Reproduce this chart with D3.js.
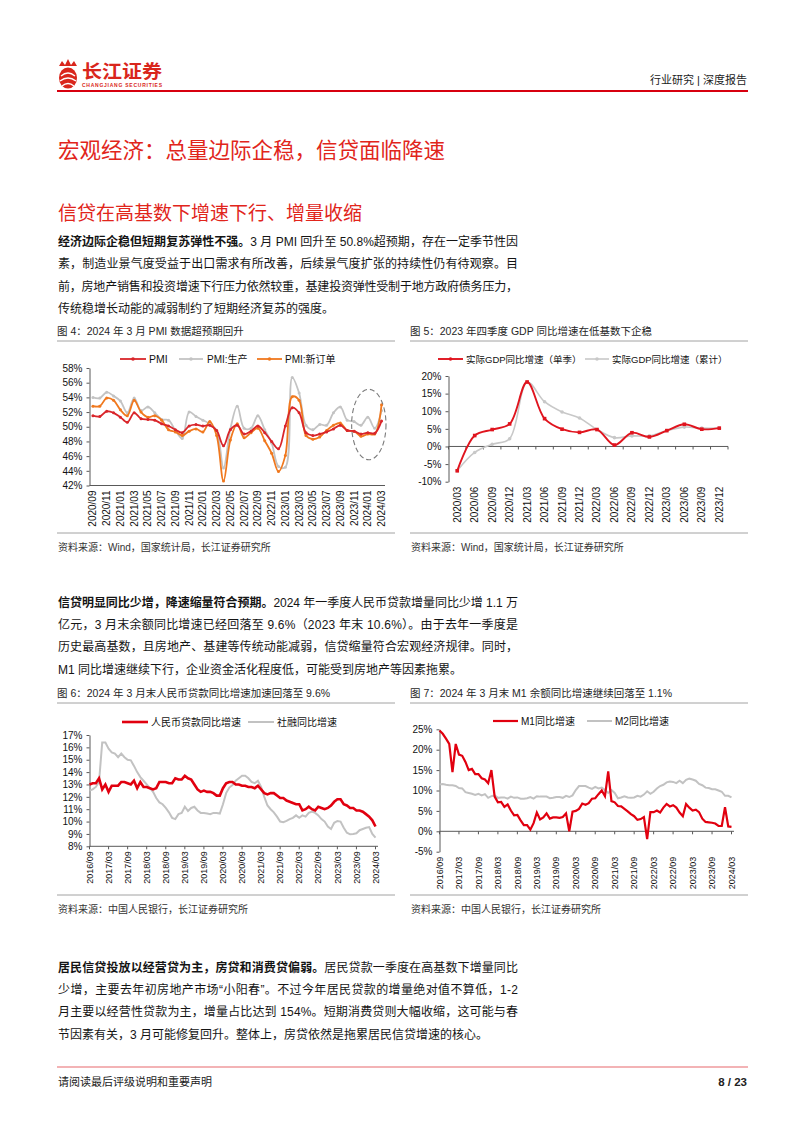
<!DOCTYPE html>
<html><head><meta charset="utf-8">
<script src="https://cdn.jsdelivr.net/npm/d3@7/dist/d3.min.js"></script>
<style>html,body{margin:0;padding:0;background:#fff;} svg{display:block;}</style>
</head><body>
<svg id="page" width="802" height="1133" xmlns="http://www.w3.org/2000/svg"></svg>
<script>
// ================= DATA =================
const pmiMonths = ["2020/09","2020/10","2020/11","2020/12","2021/01","2021/02","2021/03","2021/04","2021/05","2021/06","2021/07","2021/08","2021/09","2021/10","2021/11","2021/12","2022/01","2022/02","2022/03","2022/04","2022/05","2022/06","2022/07","2022/08","2022/09","2022/10","2022/11","2022/12","2023/01","2023/02","2023/03","2023/04","2023/05","2023/06","2023/07","2023/08","2023/09","2023/10","2023/11","2023/12","2024/01","2024/02","2024/03"];
const pmiTickLabels = ["2020/09","2020/11","2021/01","2021/03","2021/05","2021/07","2021/09","2021/11","2022/01","2022/03","2022/05","2022/07","2022/09","2022/11","2023/01","2023/03","2023/05","2023/07","2023/09","2023/11","2024/01","2024/03"];
const pmiTicks = [42,44,46,48,50,52,54,56,58];
const pmiValues = [51.5,51.4,52.1,51.9, 51.3,50.6,51.9,51.1,51.0,50.9,50.4,50.1,49.6,49.2,50.1,50.3, 50.1,50.2,49.5,47.4,49.6,50.2,49.0,49.4,50.1,49.2,48.0,47.0, 50.1,52.6,51.9,49.2,48.8,49.0,49.3,49.7,50.2,49.5,49.4,49.0, 49.2,49.1,50.8];
const pmiProduction = [54.0,53.9,54.7,54.2, 53.5,51.9,53.9,52.2,52.7,51.9,51.0,50.9,49.5,48.4,52.0,51.4, 50.9,50.4,49.5,44.4,49.7,52.8,49.8,49.8,51.5,49.6,47.8,44.6, 44.5,56.7,54.6,50.2,49.6,50.3,50.2,51.9,52.7,50.9,50.7,50.2, 51.3,49.8,52.2];
const pmiNewOrders = [52.8,52.8,53.9,53.6, 52.3,51.5,53.6,52.0,51.3,51.5,50.9,49.6,49.3,48.8,49.4,49.7, 49.3,50.7,48.8,42.6,48.2,50.4,48.5,49.2,49.8,48.1,46.4,43.9, 46.1,54.1,53.6,48.8,48.3,48.6,49.5,50.2,50.5,49.5,49.4,48.7, 49.0,49.0,53.0];

const gdpQuarters = ["2020/03","2020/06","2020/09","2020/12","2021/03","2021/06","2021/09","2021/12","2022/03","2022/06","2022/09","2022/12","2023/03","2023/06","2023/09","2023/12"];
const gdpTicks = [-10,-5,0,5,10,15,20];
const gdpSingle = [-6.9,3.1,4.8,6.4,18.3,7.9,4.9,4.0,4.8,0.4,3.9,2.7,4.5,6.3,4.9,5.2];
const gdpCumulative = [-6.9,-1.7,0.6,2.2,18.3,12.7,9.8,8.1,4.8,2.5,3.0,3.0,4.5,5.5,5.2,5.2];

const creditTickLabels = ["2016/09","2017/03","2017/09","2018/03","2018/09","2019/03","2019/09","2020/03","2020/09","2021/03","2021/09","2022/03","2022/09","2023/03","2023/09","2024/03"];
const loanTicks = [8,9,10,11,12,13,14,15,16,17];
const loanGrowth = [13.0,13.1,13.1,13.5,
 12.6,13.0,12.4,12.9,12.9,12.9,13.2,13.2,13.1,13.0,13.3,12.7,
 13.2,12.8,12.8,12.7,12.6,12.7,13.2,13.2,13.2,13.1,13.1,13.5,
 13.4,13.4,13.7,13.5,13.4,13.0,12.6,12.4,12.5,12.4,12.4,12.3,
 12.1,12.1,12.7,13.1,13.2,13.2,13.0,13.0,12.9,12.9,12.8,12.8,
 12.7,12.9,12.6,12.3,12.2,12.3,12.3,12.1,11.9,11.9,11.7,11.6,
 11.5,11.4,11.4,10.9,11.0,11.2,11.0,10.9,11.2,11.1,11.0,11.1,
 11.3,11.6,11.8,11.8,11.4,11.3,11.1,11.1,10.9,10.9,10.8,10.6,
 10.4,10.1,9.6];
const tsfGrowth = [12.5,12.6,12.8,13.2,
 16.4,16.4,15.9,15.6,15.5,15.2,15.5,15.2,15.0,14.95,14.5,14.0,
 13.6,13.3,13.0,12.7,12.4,11.9,11.55,11.4,11.1,10.75,10.3,10.2,
 10.6,10.7,11.2,10.85,11.1,11.2,10.9,10.7,10.7,10.65,10.6,10.7,
 10.7,10.65,11.4,12.3,12.75,12.95,13.3,13.5,13.7,13.7,13.5,13.2,
 13.1,13.3,12.8,12.0,11.3,11.0,10.75,10.4,10.0,9.95,10.05,10.2,
 10.3,10.5,10.3,10.5,10.4,10.7,10.8,10.7,10.5,10.2,10.0,9.6,
 9.4,9.9,10.05,10.0,9.5,9.1,8.97,9.0,9.05,9.3,9.4,9.5,
 9.55,9.0,8.7];
const m1Ticks = [-5,0,5,10,15,20,25];
const m1Growth = [24.7,23.9,22.7,21.4,
 14.5,21.4,18.8,18.5,17.0,15.0,15.3,14.0,14.0,13.0,12.7,11.8,
 15.0,8.5,7.1,7.2,6.0,6.6,5.1,3.9,4.0,2.7,1.5,1.5,
 0.4,2.0,4.6,2.9,3.4,4.4,3.1,3.4,3.4,3.3,3.5,4.4,
 0.0,4.8,5.0,5.5,6.8,6.5,6.9,8.0,8.1,9.1,10.0,8.6,
 14.7,7.4,7.1,6.2,6.1,5.5,4.9,4.2,3.7,2.8,3.0,3.5,
 -1.9,4.7,4.7,5.1,4.6,5.8,6.7,6.1,6.4,5.8,4.6,3.7,
 6.7,5.8,5.1,5.3,4.7,3.1,2.3,2.2,2.1,1.9,1.3,1.3,
 5.9,1.2,1.1];
const m2Growth = [11.5,11.6,11.4,11.3,
 11.3,11.1,10.6,10.5,9.6,9.4,9.2,8.9,9.2,8.8,9.1,8.2,
 8.6,8.8,8.2,8.3,8.3,8.0,8.5,8.2,8.3,8.0,8.0,8.1,
 8.4,8.0,8.6,8.5,8.5,8.5,8.1,8.2,8.4,8.4,8.2,8.7,
 8.4,8.8,10.1,11.1,11.1,11.1,10.7,10.4,10.9,10.5,10.7,10.1,
 9.4,10.1,9.4,8.1,8.3,8.6,8.3,8.2,8.3,8.7,8.5,9.0,
 9.8,9.2,9.7,10.5,11.1,11.4,12.0,12.2,12.1,11.8,12.4,11.8,
 12.6,12.9,12.7,12.4,11.6,11.3,10.7,10.6,10.3,10.3,10.0,9.7,
 8.7,8.7,8.3];

// month category labels 2016/09 .. 2024/03
function monthSeq(y, m, n) {
  const out = [];
  for (let i = 0; i < n; i++) { out.push(y + "/" + String(m).padStart(2, "0")); m++; if (m > 12) { m = 1; y++; } }
  return out;
}
const creditMonths = monthSeq(2016, 9, loanGrowth.length);

// ================= STYLE =================
const LAT = "'Liberation Sans', Arial, 'Noto Sans CJK SC', sans-serif";
const CJK = "'Liberation Sans', 'Noto Sans CJK SC', sans-serif";
const TITLE_RED = "#E1251B";
const svg = d3.select("#page");

// ================= HEADER =================
const logo = svg.append("g");
logo.append("ellipse").attr("cx", 68).attr("cy", 78).attr("rx", 9).attr("ry", 10.5).attr("fill", "#D9261C");
logo.append("path").attr("d", "M61,76 Q68,70 75,76 M60,81 Q68,75 76,81 M62,86 Q68,81 74,86").attr("stroke", "#fff").attr("stroke-width", 1.3).attr("fill", "none");
logo.append("path").attr("d", "M59,66 L62,61 L65,65 L68,59 L71,65 L74,61 L77,66 Z").attr("fill", "#D9261C");
logo.append("text").attr("x", 82).attr("y", 78).attr("font-family", "'Noto Sans CJK SC', sans-serif").attr("font-weight", "bold")
  .attr("font-size", 18).attr("fill", "#D9261C").attr("textLength", 80).attr("lengthAdjust", "spacingAndGlyphs").text("长江证券");
logo.append("text").attr("x", 82).attr("y", 87).attr("font-family", LAT).attr("font-weight", "bold")
  .attr("font-size", 5).attr("fill", "#D9261C").attr("textLength", 80).text("CHANGJIANG SECURITIES");
svg.append("text").attr("x", 747).attr("y", 84).attr("text-anchor", "end").attr("font-family", CJK).attr("font-size", 11).attr("fill", "#222").text("行业研究 | 深度报告");
svg.append("rect").attr("x", 57).attr("y", 90).attr("width", 691).attr("height", 2).attr("fill", "#D7000F");

// ================= TITLES & BODY =================
svg.append("text").attr("x", 58).attr("y", 158).attr("font-family", CJK).attr("font-size", 21.5).attr("fill", TITLE_RED).text("宏观经济：总量边际企稳，信贷面临降速");
svg.append("text").attr("x", 58).attr("y", 220).attr("font-family", CJK).attr("font-size", 19).attr("fill", TITLE_RED).text("信贷在高基数下增速下行、增量收缩");

const BODY_W = 460;
function para(lines, x, yc0, lh) {
  lines.forEach((parts, i) => {
    const t = svg.append("text").attr("x", x).attr("y", yc0 + i * lh + 4.6)
      .attr("font-size", 12).attr("font-family", CJK).attr("fill", "#141414");
    parts.forEach(p => t.append("tspan").attr("font-weight", p.b ? "bold" : "normal").text(p.t));
    if (i < lines.length - 1) {
      const len = t.node().getComputedTextLength();
      const n = parts.map(p => p.t).join("").length;
      t.attr("letter-spacing", ((BODY_W - len) / (n - 1)).toFixed(3));
    }
  });
}
para([
  [{t: "经济边际企稳但短期复苏弹性不强。", b: true}, {t: "3 月 PMI 回升至 50.8%超预期，存在一定季节性因"}],
  [{t: "素，制造业景气度受益于出口需求有所改善，后续景气度扩张的持续性仍有待观察。目"}],
  [{t: "前，房地产销售和投资增速下行压力依然较重，基建投资弹性受制于地方政府债务压力，"}],
  [{t: "传统稳增长动能的减弱制约了短期经济复苏的强度。"}]
], 58, 241.5, 22.3);
para([
  [{t: "信贷明显同比少增，降速缩量符合预期。", b: true}, {t: "2024 年一季度人民币贷款增量同比少增 1.1 万"}],
  [{t: "亿元，3 月末余额同比增速已经回落至 9.6%（2023 年末 10.6%）。由于去年一季度是"}],
  [{t: "历史最高基数，且房地产、基建等传统动能减弱，信贷缩量符合宏观经济规律。同时，"}],
  [{t: "M1 同比增速继续下行，企业资金活化程度低，可能受到房地产等因素拖累。"}]
], 58, 602, 22.3);
para([
  [{t: "居民信贷投放以经营贷为主，房贷和消费贷偏弱。", b: true}, {t: "居民贷款一季度在高基数下增量同比"}],
  [{t: "少增，主要去年初房地产市场“小阳春”。不过今年居民贷款的增量绝对值不算低，1-2"}],
  [{t: "月主要以经营性贷款为主，增量占比达到 154%。短期消费贷则大幅收缩，这可能与春"}],
  [{t: "节因素有关，3 月可能修复回升。整体上，房贷依然是拖累居民信贷增速的核心。"}]
], 58, 967, 22.3);

// footer
svg.append("rect").attr("x", 57).attr("y", 1066).attr("width", 691).attr("height", 2).attr("fill", "#F3B3B5");
svg.append("text").attr("x", 58).attr("y", 1086).attr("font-family", CJK).attr("font-size", 11).attr("fill", "#222").text("请阅读最后评级说明和重要声明");
svg.append("text").attr("x", 747).attr("y", 1086).attr("text-anchor", "end").attr("font-family", LAT).attr("font-weight", "bold").attr("font-size", 11.5).attr("fill", "#222").text("8 / 23");

// ================= CHART HELPERS =================
function frame(x0, x1, titleY, title, bottomY, source) {
  svg.append("text").attr("x", x0).attr("y", titleY + 4).attr("font-family", CJK).attr("font-size", 10.5).attr("fill", "#262626").text(title);
  svg.append("line").attr("x1", x0).attr("x2", x1).attr("y1", titleY + 10).attr("y2", titleY + 10).attr("stroke", "#8c8c8c").attr("stroke-width", 0.8);
  svg.append("line").attr("x1", x0).attr("x2", x1).attr("y1", bottomY).attr("y2", bottomY).attr("stroke", "#8c8c8c").attr("stroke-width", 0.8);
  svg.append("text").attr("x", x0 + 1).attr("y", bottomY + 18).attr("font-family", CJK).attr("font-size", 10).attr("fill", "#333").text(source);
}
function yAxis(scale, x, ticks) {
  svg.append("g").attr("transform", `translate(${x},0)`)
    .call(d3.axisLeft(scale).tickValues(ticks).tickSize(3).tickSizeOuter(0).tickPadding(4).tickFormat(d => d + "%"))
    .call(a => {
      a.select(".domain").attr("stroke", "#595959");
      a.selectAll(".tick line").attr("stroke", "#595959");
      a.selectAll("text").attr("font-size", 10).attr("font-family", LAT).attr("fill", "#111");
    });
}
function xLabels(labels, xpos, y, size) {
  svg.append("g").selectAll("text").data(labels).join("text")
    .attr("transform", d => `translate(${xpos(d)},${y}) rotate(-90)`)
    .attr("text-anchor", "end").attr("dy", "0.35em")
    .attr("font-family", LAT).attr("font-size", size).attr("fill", "#111").text(d => d);
}
function legendItem(x1, x2, y, color, w, text, tx, size, marker) {
  svg.append("line").attr("x1", x1).attr("x2", x2).attr("y1", y).attr("y2", y).attr("stroke", color).attr("stroke-width", w);
  if (marker) svg.append("circle").attr("cx", (x1 + x2) / 2).attr("cy", y).attr("r", 1.8).attr("fill", color);
  svg.append("text").attr("x", tx).attr("y", y + 3.6).attr("font-family", CJK).attr("font-size", size).attr("fill", "#111").text(text);
}

// ================= CHART 4: PMI =================
frame(57, 395, 331, "图 4：2024 年 3 月 PMI 数据超预期回升", 533, "资料来源：Wind，国家统计局，长江证券研究所");
{
  const x = d3.scaleBand().domain(pmiMonths).range([89.5, 385]);
  const xc = d => x(d) + x.bandwidth() / 2;
  const y = d3.scaleLinear().domain([42, 58]).range([485.5, 368]);
  yAxis(y, 89.5, pmiTicks);
  svg.append("line").attr("x1", 89.5).attr("x2", 385).attr("y1", y(42)).attr("y2", y(42)).attr("stroke", "#595959");
  xLabels(pmiTickLabels, xc, y(42) + 5, 10);
  const series = [
    {v: pmiProduction, c: "#C3C3C3"},
    {v: pmiNewOrders, c: "#F0781E"},
    {v: pmiValues, c: "#D9252A"}
  ];
  const line = d3.line().x((d, i) => xc(pmiMonths[i])).y(d => y(d)).curve(d3.curveCatmullRom.alpha(0.5));
  series.forEach(s => {
    svg.append("path").datum(s.v).attr("d", line).attr("fill", "none").attr("stroke", s.c).attr("stroke-width", 1.8);
    svg.append("g").selectAll("circle").data(s.v).join("circle")
      .attr("cx", (d, i) => xc(pmiMonths[i])).attr("cy", d => y(d)).attr("r", 1.5).attr("fill", s.c);
  });
  // dashed highlight ellipse
  svg.append("ellipse").attr("cx", xc("2024/01") + 1).attr("cy", y(50.3)).attr("rx", x.bandwidth() * 2.5)
    .attr("ry", y(45.5) - y(50.3)).attr("fill", "none").attr("stroke", "#7a7a7a").attr("stroke-width", 1.1).attr("stroke-dasharray", "5,3");
  legendItem(120, 146, 359, "#D9252A", 1.8, "PMI", 149, 10.5, true);
  legendItem(179, 203, 359, "#C3C3C3", 1.8, "PMI:生产", 207, 10, true);
  legendItem(257, 282, 359, "#F0781E", 1.8, "PMI:新订单", 285, 10, true);
}

// ================= CHART 5: GDP =================
frame(410, 748, 331, "图 5：2023 年四季度 GDP 同比增速在低基数下企稳", 533, "资料来源：Wind，国家统计局，长江证券研究所");
{
  const x = d3.scaleBand().domain(gdpQuarters).range([448.5, 728]);
  const xc = d => x(d) + x.bandwidth() / 2;
  const y = d3.scaleLinear().domain([-10, 20]).range([481.7, 376]);
  yAxis(y, 448.5, gdpTicks);
  svg.append("line").attr("x1", 448.5).attr("x2", 728).attr("y1", y(0)).attr("y2", y(0)).attr("stroke", "#595959");
  const bounds = gdpQuarters.map(d => x(d)).concat([x.range()[1]]);
  svg.append("g").selectAll("line").data(bounds).join("line")
    .attr("x1", d => d).attr("x2", d => d).attr("y1", y(0)).attr("y2", y(0) + 3).attr("stroke", "#595959");
  xLabels(gdpQuarters, xc, y(-10) + 5, 10);
  const line = d3.line().x((d, i) => xc(gdpQuarters[i])).y(d => y(d)).curve(d3.curveCatmullRom.alpha(0.5));
  svg.append("path").datum(gdpCumulative).attr("d", line).attr("fill", "none").attr("stroke", "#C8C8C8").attr("stroke-width", 1.6);
  svg.append("g").selectAll("circle").data(gdpCumulative).join("circle")
    .attr("cx", (d, i) => xc(gdpQuarters[i])).attr("cy", d => y(d)).attr("r", 1.8).attr("fill", "#C8C8C8");
  svg.append("path").datum(gdpSingle).attr("d", line).attr("fill", "none").attr("stroke", "#E0141E").attr("stroke-width", 1.9);
  svg.append("g").selectAll("rect").data(gdpSingle).join("rect")
    .attr("x", (d, i) => xc(gdpQuarters[i]) - 1.8).attr("y", d => y(d) - 1.8).attr("width", 3.6).attr("height", 3.6).attr("fill", "#E0141E");
  legendItem(438, 463, 359, "#E0141E", 1.9, "实际GDP同比增速（单季）", 466, 9.5, true);
  legendItem(585, 609, 359, "#C8C8C8", 1.6, "实际GDP同比增速（累计）", 612, 9.5, true);
}

// ================= CHART 6: Loans =================
frame(57, 395, 693, "图 6：2024 年 3 月末人民币贷款同比增速加速回落至 9.6%", 895, "资料来源：中国人民银行，长江证券研究所");
{
  const x = d3.scalePoint().domain(creditMonths).range([89.5, 375.5]);
  const y = d3.scaleLinear().domain([8, 17]).range([846.3, 735]);
  yAxis(y, 89.5, loanTicks);
  svg.append("line").attr("x1", 89.5).attr("x2", 378).attr("y1", y(8)).attr("y2", y(8)).attr("stroke", "#595959");
  svg.append("g").selectAll("line").data(creditTickLabels).join("line")
    .attr("x1", d => x(d)).attr("x2", d => x(d)).attr("y1", y(8)).attr("y2", y(8) + 3).attr("stroke", "#595959");
  xLabels(creditTickLabels, x, y(8) + 5, 9);
  const line = d3.line().x((d, i) => x(creditMonths[i])).y(d => y(d));
  svg.append("path").datum(tsfGrowth).attr("d", line).attr("fill", "none").attr("stroke", "#C2C2C2").attr("stroke-width", 2);
  svg.append("path").datum(loanGrowth).attr("d", line).attr("fill", "none").attr("stroke", "#E1000F").attr("stroke-width", 2.6);
  legendItem(122, 148, 722, "#E1000F", 2.6, "人民币贷款同比增速", 151, 10, false);
  legendItem(248, 274, 722, "#C2C2C2", 2, "社融同比增速", 277, 10, false);
}

// ================= CHART 7: M1/M2 =================
frame(410, 748, 693, "图 7：2024 年 3 月末 M1 余额同比增速继续回落至 1.1%", 895, "资料来源：中国人民银行，长江证券研究所");
{
  const x = d3.scalePoint().domain(creditMonths).range([439.5, 731.5]);
  const y = d3.scaleLinear().domain([-5, 25]).range([851.7, 729.3]);
  yAxis(y, 439.5, m1Ticks);
  svg.append("line").attr("x1", 439.5).attr("x2", 734).attr("y1", y(0)).attr("y2", y(0)).attr("stroke", "#595959");
  svg.append("g").selectAll("line").data(creditTickLabels).join("line")
    .attr("x1", d => x(d)).attr("x2", d => x(d)).attr("y1", y(0)).attr("y2", y(0) + 3).attr("stroke", "#595959");
  xLabels(creditTickLabels, x, y(-5) + 5, 9);
  const line = d3.line().x((d, i) => x(creditMonths[i])).y(d => y(d));
  svg.append("path").datum(m2Growth).attr("d", line).attr("fill", "none").attr("stroke", "#C2C2C2").attr("stroke-width", 2);
  svg.append("path").datum(m1Growth).attr("d", line).attr("fill", "none").attr("stroke", "#E1000F").attr("stroke-width", 2.2);
  legendItem(493, 518, 721, "#E1000F", 2.2, "M1同比增速", 521, 10, false);
  legendItem(587, 612, 721, "#C2C2C2", 2, "M2同比增速", 615, 10, false);
}
</script>
</body></html>
